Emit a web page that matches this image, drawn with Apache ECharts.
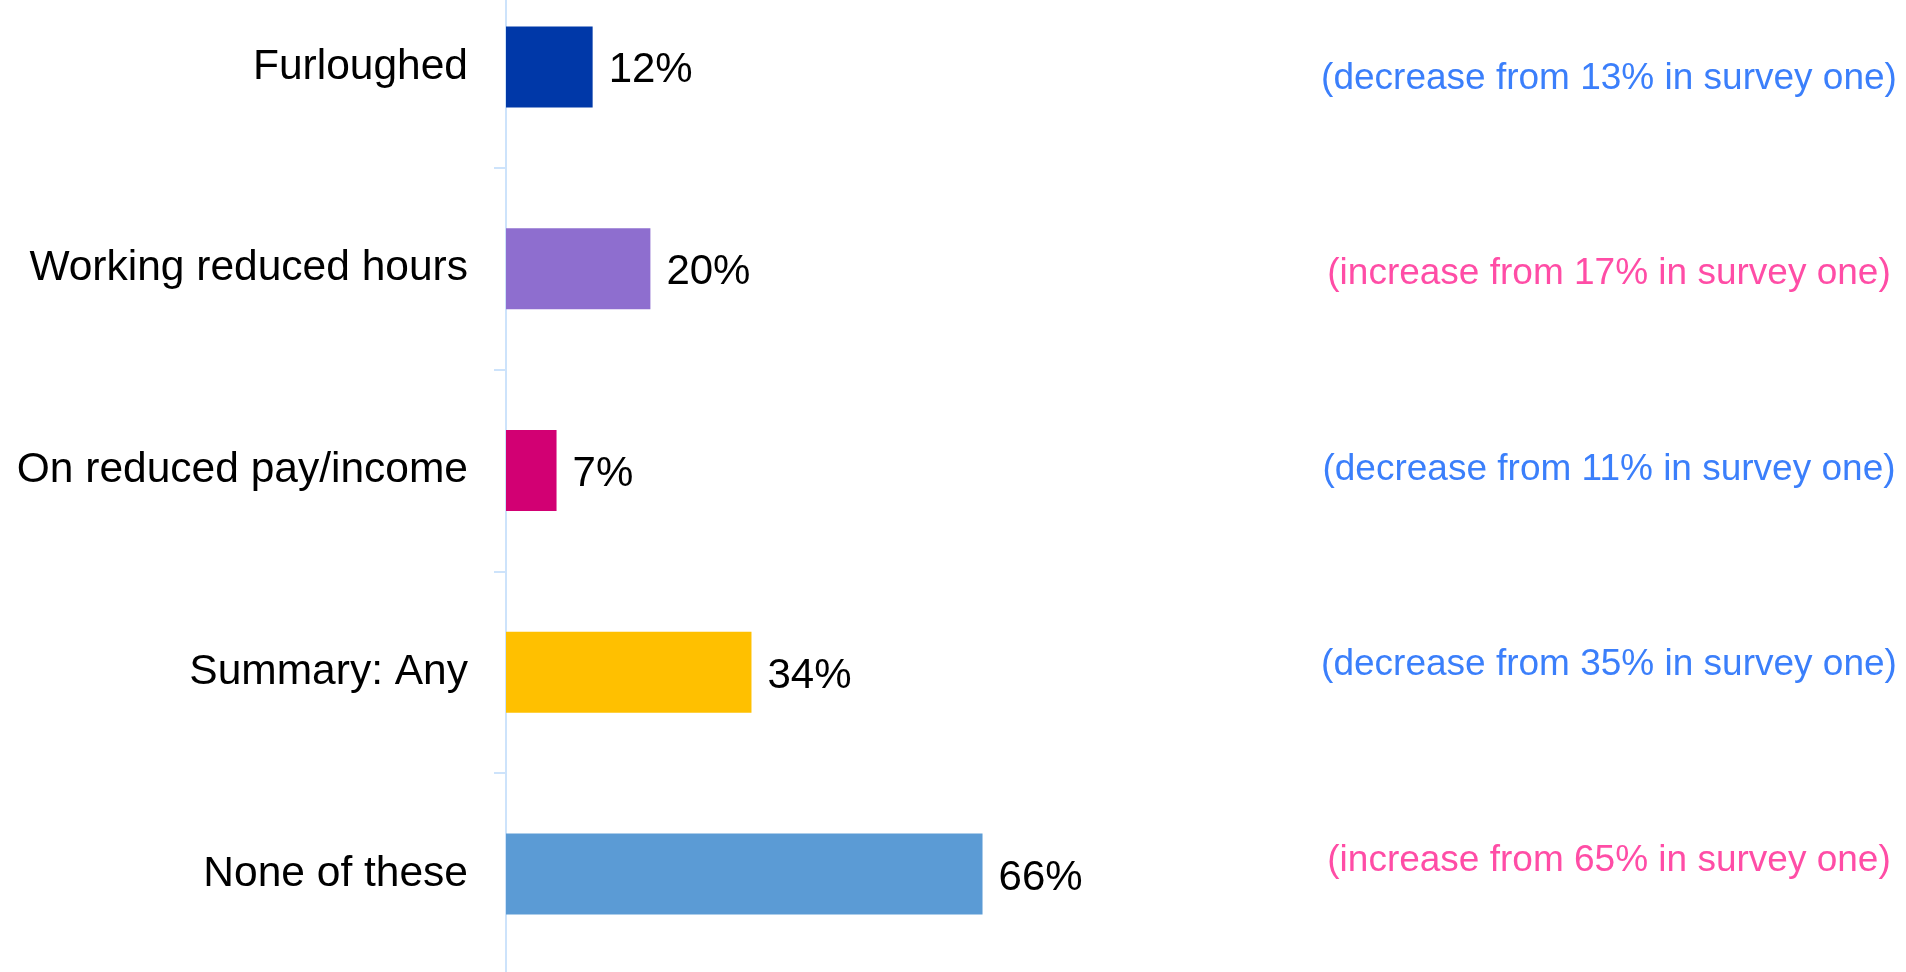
<!DOCTYPE html>
<html>
<head>
<meta charset="utf-8">
<script src="https://cdn.jsdelivr.net/npm/echarts@6/dist/echarts.min.js"></script>
<style>
  html, body { margin: 0; padding: 0; background: #fff; overflow: hidden; }
  /* the plot bands run past the picture edges, so the canvas is taller than the window */
  #chart { position: absolute; left: 0; top: -34px; width: 1906px; height: 1043px; }
</style>
</head>
<body>
<div id="chart"></div>
<script>
// categories, top to bottom
const categories = ['Furloughed', 'Working reduced hours', 'On reduced pay/income', 'Summary: Any', 'None of these'];
const values = [12, 20, 7, 34, 66];
const barColors = ['#0038a8', '#8e6ecf', '#d20073', '#ffc000', '#5b9bd5'];

// comparison with survey one
const notes = [
    '(decrease from 13% in survey one)',
    '(increase from 17% in survey one)',
    '(decrease from 11% in survey one)',
    '(decrease from 35% in survey one)',
    '(increase from 65% in survey one)'
];
const noteUp = [false, true, false, false, true];

const FONT = '"Liberation Sans", Arial, sans-serif';
const axisColor = '#cde3fb';

let myChart = echarts.init(document.getElementById('chart'), null, {renderer: 'canvas'});

let option = {
    animation: false,
    grid: [
        {left: 506, top: 0, width: 722, height: 1009, containLabel: false},
        {left: 1609, top: 15, width: 1, height: 977, containLabel: false}
    ],
    xAxis: [
        {gridIndex: 0, type: 'value', min: 0, max: 100, show: false},
        {gridIndex: 1, type: 'value', min: 0, max: 1, show: false}
    ],
    yAxis: [
        {
            gridIndex: 0,
            type: 'category',
            inverse: true,
            data: categories,
            axisLine: {show: true, lineStyle: {color: axisColor, width: 2}},
            axisTick: {show: true, length: 12, lineStyle: {color: axisColor, width: 2}},
            splitLine: {show: false},
            axisLabel: {
                margin: 38,
                fontSize: 42.5,
                fontFamily: FONT,
                color: '#000',
                padding: [4, 0, 0, 0]
            }
        },
        {
            gridIndex: 1,
            type: 'category',
            inverse: true,
            data: notes,
            axisLine: {show: false},
            axisTick: {show: false},
            splitLine: {show: false},
            axisLabel: {
                margin: 0,
                align: 'center',
                fontSize: 37,
                fontFamily: FONT,
                color: (val, i) => noteUp[i] ? '#ff4da6' : '#3b7ffb'
            }
        }
    ],
    series: [
        {
            type: 'bar',
            xAxisIndex: 0,
            yAxisIndex: 0,
            barWidth: 81,
            data: values.map((v, i) => ({
                value: v,
                itemStyle: {color: barColors[i]}
            })),
            label: {
                show: true,
                position: 'right',
                distance: 16,
                offset: [0, 4],
                formatter: '{c}%',
                fontSize: 42,
                fontFamily: FONT,
                color: '#000'
            }
        }
    ]
};
myChart.setOption(option);
</script>
</body>
</html>
